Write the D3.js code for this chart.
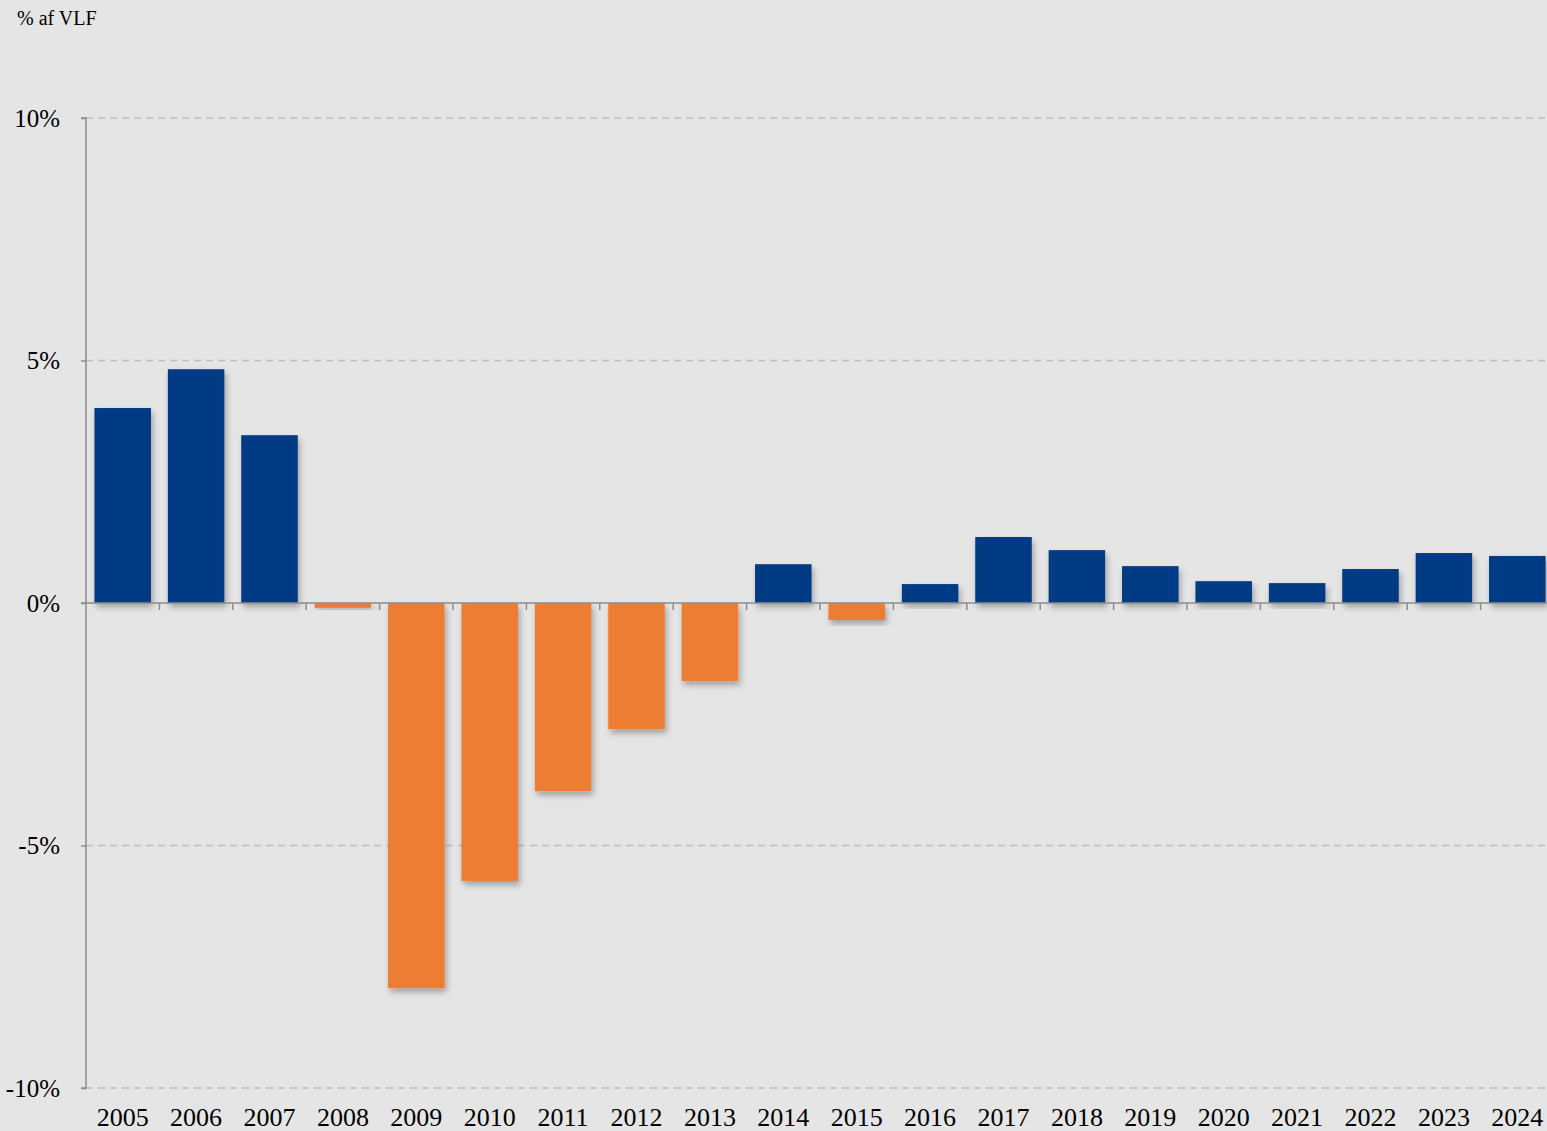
<!DOCTYPE html>
<html>
<head>
<meta charset="utf-8">
<script src="https://cdn.jsdelivr.net/npm/d3@7"></script>
<style>
  html, body { margin: 0; padding: 0; background: #e5e5e5; overflow: hidden; }
  svg { display: block; font-family: "Liberation Serif", "Times New Roman", serif; }
</style>
</head>
<body>
<div id="chart"></div>
<script>
  // Data.
  var years = ["2005","2006","2007","2008","2009","2010","2011","2012","2013","2014",
               "2015","2016","2017","2018","2019","2020","2021","2022","2023","2024"];
  var values = [4.02, 4.82, 3.46, -0.10, -7.94, -5.73, -3.88, -2.60, -1.61, 0.80,
                -0.35, 0.39, 1.36, 1.09, 0.76, 0.45, 0.41, 0.70, 1.03, 0.97];
  var yTicks = [-10, -5, 0, 5, 10];
  var unitLabel = "% af VLF";

  var W = 1547, H = 1131;
  var svg = d3.select("#chart").append("svg")
      .attr("width", W)
      .attr("height", H);

  svg.append("rect").attr("width", W).attr("height", H).attr("fill", "#e5e5e5");

  // Drop shadow for bars.
  var defs = svg.append("defs");
  var f = defs.append("filter").attr("id", "shadow")
      .attr("x", "-20%").attr("y", "-20%").attr("width", "150%").attr("height", "150%");
  f.append("feDropShadow")
      .attr("dx", 2).attr("dy", 4).attr("stdDeviation", 3)
      .attr("flood-color", "#000").attr("flood-opacity", 0.3);

  var x = d3.scaleBand()
      .domain(years)
      .range([86, 1554])
      .paddingInner(0.23)
      .paddingOuter(0.115);

  var y = d3.scaleLinear()
      .domain([-10, 10])
      .range([1088, 118]);

  // Grid lines.
  svg.append("g")
    .selectAll("line")
    .data(yTicks.filter(function(d){ return d !== 0; }))
    .enter().append("line")
      .attr("x1", 86).attr("x2", W)
      .attr("y1", function(d){ return y(d); })
      .attr("y2", function(d){ return y(d); })
      .attr("stroke", "#bfbfbf")
      .attr("stroke-width", 1.5)
      .attr("stroke-dasharray", "7,5");

  // Bars.
  svg.append("g")
    .selectAll("rect")
    .data(values)
    .enter().append("rect")
      .attr("x", function(d, i){ return x(years[i]); })
      .attr("y", function(d){ return d >= 0 ? y(d) : y(0); })
      .attr("width", x.bandwidth())
      .attr("height", function(d){ return Math.abs(y(d) - y(0)); })
      .attr("fill", function(d){ return d >= 0 ? "#003a84" : "#ed7d31"; })
      .attr("filter", "url(#shadow)");

  // Y axis.
  var yAxis = d3.axisLeft(y)
      .tickValues(yTicks)
      .tickSize(5)
      .tickPadding(21)
      .tickFormat(function(d){ return d + "%"; });
  var gy = svg.append("g")
      .attr("transform", "translate(86,0)")
      .call(yAxis);
  gy.select(".domain").attr("stroke", "#8c8c8c").attr("stroke-width", 1.5)
      .attr("d", "M-5," + y(10) + "H0V" + y(-10) + "H-5");
  gy.selectAll(".tick line").attr("stroke", "#8c8c8c").attr("stroke-width", 1.5);
  gy.selectAll(".tick text")
      .attr("font-size", 25)
      .attr("fill", "#000")
      .attr("font-family", "Liberation Serif, serif");

  // Zero line with ticks at band boundaries.
  var step = x.step();
  var boundaries = d3.range(1, years.length + 1).map(function(i){ return 86 + i * step; });
  svg.append("line")
      .attr("x1", 81).attr("x2", W)
      .attr("y1", y(0)).attr("y2", y(0))
      .attr("stroke", "#8c8c8c").attr("stroke-width", 1.5);
  svg.append("g")
    .selectAll("line")
    .data(boundaries)
    .enter().append("line")
      .attr("x1", function(d){ return d; })
      .attr("x2", function(d){ return d; })
      .attr("y1", y(0)).attr("y2", y(0) + 7)
      .attr("stroke", "#8c8c8c").attr("stroke-width", 1.5);

  // Year labels.
  svg.append("g")
    .selectAll("text")
    .data(years)
    .enter().append("text")
      .attr("x", function(d){ return x(d) + x.bandwidth() / 2; })
      .attr("y", 1126)
      .attr("text-anchor", "middle")
      .attr("font-size", 26)
      .attr("fill", "#000")
      .text(function(d){ return d; });

  // Unit label.
  svg.append("text")
      .attr("x", 17).attr("y", 25)
      .attr("font-size", 20)
      .attr("fill", "#000")
      .text(unitLabel);
</script>
</body>
</html>
